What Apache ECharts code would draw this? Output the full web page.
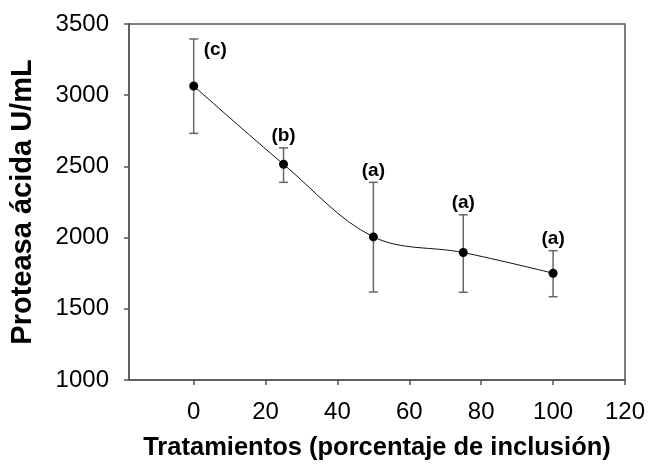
<!DOCTYPE html>
<html><head><meta charset="utf-8">
<script src="https://cdn.jsdelivr.net/npm/echarts@6/dist/echarts.min.js"></script>
<style>html,body{margin:0;padding:0;background:#fff}#c{width:648px;height:470px}</style>
</head><body><div id="c"></div>
<script>
var xValues = [0, 25, 50, 75, 100];
var means = [3065, 2515, 2005, 1895, 1750];
var upper = [3395, 2630, 2388, 2160, 1908];
var lower = [2732, 2388, 1618, 1616, 1585];
var letters = ['(c)', '(b)', '(a)', '(a)', '(a)'];
var xTicks = [0, 20, 40, 60, 80, 100, 120];

var FONT = '"Liberation Sans", Arial, sans-serif';
var AX = '#555';
var chart = echarts.init(document.getElementById('c'));
var errData = xValues.map(function (x, i) { return [x, lower[i], upper[i], i]; });
chart.setOption({
  animation: false,
  grid: { left: 128, right: 23, top: 24, bottom: 90, show: true, borderColor: AX, borderWidth: 1.5 },
  xAxis: {
    type: 'value', min: -18, max: 120,
    name: 'Tratamientos (porcentaje de inclusión)', nameLocation: 'middle', nameGap: 55,
    nameTextStyle: { fontFamily: FONT, fontWeight: 'bold', fontSize: 25.5, color: '#000' },
    axisLine: { onZero: false, lineStyle: { color: AX, width: 1.5 } },
    axisTick: { show: true, length: 5, customValues: xTicks, lineStyle: { color: AX, width: 1.5 } },
    axisLabel: { customValues: xTicks, fontFamily: FONT, fontSize: 24, color: '#000', margin: 20,
      formatter: function (v) { return String(v); } },
    splitLine: { show: false }
  },
  yAxis: {
    type: 'value', min: 1000, max: 3500, interval: 500,
    name: 'Proteasa ácida U/mL', nameLocation: 'middle', nameGap: 92, nameRotate: 90,
    nameTextStyle: { fontFamily: FONT, fontWeight: 'bold', fontSize: 29, color: '#000' },
    axisLine: { show: true, onZero: false, lineStyle: { color: AX, width: 1.5 } },
    axisTick: { show: true, length: 5, lineStyle: { color: AX, width: 1.5 } },
    axisLabel: { fontFamily: FONT, fontSize: 24, color: '#000', margin: 20,
      formatter: function (v) { return String(v); } },
    splitLine: { show: false }
  },
  series: [
    {
      type: 'custom',
      data: errData,
      z: 3,
      renderItem: function (params, api) {
        var x = api.value(0);
        var pLo = api.coord([x, api.value(1)]);
        var pHi = api.coord([x, api.value(2)]);
        var i = api.value(3);
        var cap = 4.5;
        var st = { stroke: '#666', lineWidth: 1.5 };
        var txt;
        if (i === 0) {
          txt = { type: 'text', style: { x: pHi[0] + 10, y: pHi[1] + 11, text: letters[i], fill: '#000',
            font: 'bold 19px ' + FONT, textAlign: 'left', textVerticalAlign: 'middle' } };
        } else {
          txt = { type: 'text', style: { x: pHi[0], y: pHi[1] - 12, text: letters[i], fill: '#000',
            font: 'bold 19px ' + FONT, textAlign: 'center', textVerticalAlign: 'middle' } };
        }
        return { type: 'group', children: [
          { type: 'line', shape: { x1: pLo[0], y1: pLo[1], x2: pHi[0], y2: pHi[1] }, style: st },
          { type: 'line', shape: { x1: pLo[0] - cap, y1: pLo[1], x2: pLo[0] + cap, y2: pLo[1] }, style: st },
          { type: 'line', shape: { x1: pHi[0] - cap, y1: pHi[1], x2: pHi[0] + cap, y2: pHi[1] }, style: st },
          txt
        ] };
      }
    },
    {
      type: 'line',
      data: xValues.map(function (x, i) { return [x, means[i]]; }),
      smooth: 0.35,
      symbol: 'circle', symbolSize: 9,
      itemStyle: { color: '#000' },
      lineStyle: { color: '#111', width: 1 },
      z: 5
    }
  ]
});
</script></body></html>
